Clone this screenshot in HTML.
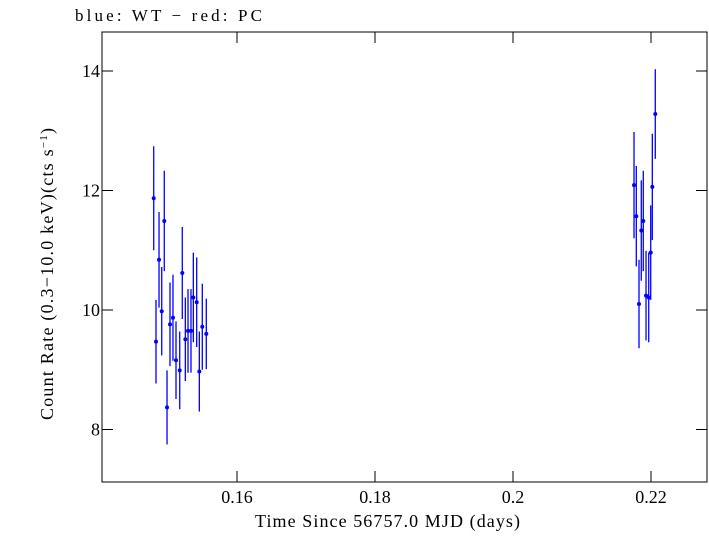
<!DOCTYPE html>
<html><head><meta charset="utf-8"><style>
body{margin:0;background:#fff;}
svg text{font-family:"Liberation Serif",serif;fill:#000;}
</style></head><body>
<svg id="chart" width="709" height="532" xmlns="http://www.w3.org/2000/svg">
<text x="75" y="21" font-size="17" textLength="187" lengthAdjust="spacing">blue: WT − red: PC</text>
<rect x="102" y="32" width="605" height="450" fill="none" stroke="#000" stroke-width="1"/>
<g id="axes"></g>
<g id="marks"></g>
<text x="255" y="527" font-size="18" textLength="265" lengthAdjust="spacing">Time Since 56757.0 MJD (days)</text>
<text transform="translate(53,420) rotate(-90)" font-size="18" textLength="292" lengthAdjust="spacing">Count Rate (0.3−10.0 keV)(cts s<tspan font-size="11" dy="-6">−1</tspan><tspan dy="6">)</tspan></text>
</svg>
<script>
const times=[0.14793,0.14826,0.14870,0.14909,0.14946,0.14986,0.15029,0.15072,0.15116,0.15170,0.15207,0.15251,0.15290,0.15333,0.15367,0.15416,0.15454,0.15497,0.15555,
0.21754,0.21787,0.21826,0.21859,0.21888,0.21928,0.21967,0.21996,0.22019,0.22062];
const rates=[11.87,9.47,10.84,9.98,11.49,8.37,9.76,9.87,9.16,8.99,10.62,9.51,9.65,9.65,10.21,10.13,8.97,9.72,9.60,
12.09,11.57,10.10,11.33,11.49,10.24,10.21,10.96,12.06,13.28];
const errs=[0.87,0.70,0.80,0.74,0.84,0.62,0.70,0.72,0.65,0.65,0.77,0.70,0.70,0.70,0.75,0.75,0.67,0.72,0.59,
0.89,0.84,0.74,0.84,0.84,0.75,0.75,0.79,0.89,0.75];
const xTicks=[0.16,0.18,0.2,0.22];
const xTickLabels=["0.16","0.18","0.2","0.22"];
const yTicks=[8,10,12,14];
const yTickLabels=["8","10","12","14"];
const X=t=>237+(t-0.16)/0.02*138;
const Y=v=>310-(v-10)*59.75;
const NS="http://www.w3.org/2000/svg";
const axes=document.getElementById('axes'),marks=document.getElementById('marks');
function mk(tag,attrs,parent){const e=document.createElementNS(NS,tag);for(const k in attrs)e.setAttribute(k,attrs[k]);parent.appendChild(e);return e;}
xTicks.forEach((t,i)=>{
 const x=X(t);
 const a=mk('line',{x1:x,x2:x,y1:482,y2:471,stroke:'#000'},axes);
 
 
 const b=mk('line',{x1:x,x2:x,y1:32,y2:43,stroke:'#000'},axes);
 
 
 const l=mk('text',{x:x,y:503,'font-size':18,'text-anchor':'middle'},axes);
 l.textContent=xTickLabels[i];
 
 
});
yTicks.forEach((v,i)=>{
 const y=Y(v);
 const a=mk('line',{x1:102,x2:113,y1:y,y2:y,stroke:'#000'},axes);
 
 
 const b=mk('line',{x1:707,x2:696,y1:y,y2:y,stroke:'#000'},axes);
 
 
 const l=mk('text',{x:100,y:y+6,'font-size':18,'text-anchor':'end'},axes);
 l.textContent=yTickLabels[i];
 
 
});
times.forEach((t,i)=>{
 const x=X(t),y=Y(rates[i]);
 const g=mk('g',{},marks);
 
 
 mk('line',{x1:x,x2:x,y1:Y(rates[i]+errs[i]),y2:Y(rates[i]-errs[i]),stroke:'#0000ff','stroke-width':1.3},g);
 mk('line',{x1:x-1.5,x2:x+1.5,y1:y,y2:y,stroke:'#0000ff','stroke-width':1.3},g);
 mk('circle',{cx:x,cy:y,r:2,fill:'#0000ff'},g);
});
</script>
</body></html>
